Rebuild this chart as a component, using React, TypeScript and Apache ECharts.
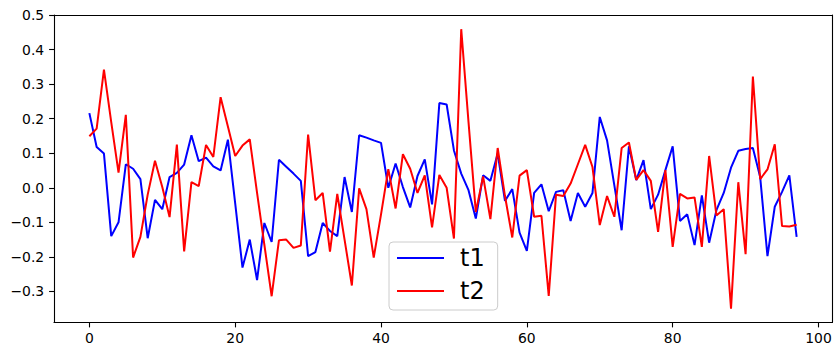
import React, { useEffect, useRef } from "react";
import * as echarts from "echarts";

const xIndex: number[] = Array.from({ length: 98 }, (_, i) => i);

const t1: number[] = [
  0.216, 0.118, 0.099, -0.14, -0.1, 0.068, 0.055, 0.025, -0.146, -0.035,
  -0.062, 0.031, 0.043, 0.067, 0.152, 0.077, 0.087, 0.062, 0.05, 0.139,
  -0.045, -0.231, -0.15, -0.267, -0.102, -0.157, 0.081, 0.061, 0.041, 0.02,
  -0.198, -0.186, -0.102, -0.125, -0.14, 0.031, -0.07, 0.152, 0.145, 0.137,
  0.13, 0.0, 0.07, 0.002, -0.057, 0.034, 0.082, -0.048, 0.245, 0.241,
  0.108, 0.041, -0.007, -0.089, 0.036, 0.02, 0.099, -0.038, -0.004, -0.13,
  -0.183, -0.015, 0.01, -0.068, -0.012, -0.007, -0.096, -0.015, -0.055, -0.015,
  0.205, 0.137, 0.007, -0.123, 0.12, 0.022, 0.08, -0.062, -0.02, 0.051,
  0.12, -0.096, -0.077, -0.166, -0.022, -0.159, -0.065, -0.015, 0.058, 0.107,
  0.112, 0.115, 0.031, -0.198, -0.055, -0.012, 0.036, -0.142,
];

const t2: number[] = [
  0.149, 0.171, 0.342, 0.19, 0.044, 0.211, -0.202, -0.142, -0.02, 0.078,
  0.002, -0.085, 0.125, -0.184, 0.016, 0.005, 0.124, 0.089, 0.262, 0.177,
  0.092, 0.122, 0.14, -0.015, -0.165, -0.314, -0.152, -0.15, -0.174, -0.167,
  0.154, -0.036, -0.015, -0.185, -0.018, -0.15, -0.283, -0.002, -0.062, -0.202,
  -0.077, 0.054, -0.06, 0.097, 0.055, -0.015, 0.036, -0.115, 0.037, 0.0,
  -0.147, 0.459, 0.19, -0.07, 0.033, -0.091, 0.115, -0.024, -0.144, 0.035,
  0.051, -0.084, -0.081, -0.313, -0.02, -0.024, 0.012, 0.068, 0.124, 0.06,
  -0.108, -0.024, -0.084, 0.115, 0.131, 0.023, 0.051, 0.02, -0.128, 0.051,
  -0.171, -0.018, -0.031, -0.028, -0.171, 0.092, -0.08, -0.062, -0.35, 0.016,
  -0.192, 0.322, 0.025, 0.053, 0.126, -0.111, -0.112, -0.107,
];

const xTicks: number[] = [0, 20, 40, 60, 80, 100];
const yTicks: number[] = [-0.3, -0.2, -0.1, 0.0, 0.1, 0.2, 0.3, 0.4, 0.5];

const FONT = "DejaVu Sans";
const X_MIN = -4.85;
const X_MAX = 101.85;
const Y_MIN = -0.39;
const Y_MAX = 0.5;

function fmtY(v: number): string {
  const s = (Math.round(v * 10) / 10).toFixed(1);
  if (s === "-0.0") return "0.0";
  return s.replace("-", "\u2212");
}

export default function App() {
  const ref = useRef<HTMLDivElement>(null);
  useEffect(() => {
    if (!ref.current) return;
    const chart = echarts.init(ref.current, undefined, { renderer: "svg" });
    const spine = { show: true, onZero: false, lineStyle: { color: "#000", width: 1.1 } };
    const tickStyle = { color: "#000", width: 1.1 };
    const bare = {
      splitLine: { show: false },
      axisTick: { show: false },
      axisLabel: { show: false },
      axisLine: spine,
    };
    chart.setOption({
      animation: false,
      backgroundColor: "#fff",
      grid: {
        left: 54,
        top: 15,
        width: 778,
        height: 307.5,
        containLabel: false,
      },
      xAxis: [
        {
          type: "value",
          position: "bottom",
          min: X_MIN,
          max: X_MAX,
          splitLine: { show: false },
          axisLine: spine,
          axisTick: {
            show: true,
            length: 4.9,
            inside: false,
            lineStyle: tickStyle,
            customValues: xTicks,
          },
          axisLabel: {
            show: true,
            margin: 8,
            color: "#000",
            fontSize: 13.9,
            fontFamily: FONT,
            customValues: xTicks,
            formatter: (v: number) => String(Math.round(v)),
          },
        },
        { type: "value", position: "top", min: X_MIN, max: X_MAX, ...bare },
      ],
      yAxis: [
        {
          type: "value",
          position: "left",
          min: Y_MIN,
          max: Y_MAX,
          splitLine: { show: false },
          axisLine: spine,
          axisTick: {
            show: true,
            length: 4.9,
            inside: false,
            lineStyle: tickStyle,
            customValues: yTicks,
          },
          axisLabel: {
            show: true,
            margin: 9.8,
            color: "#000",
            fontSize: 13.9,
            fontFamily: FONT,
            customValues: yTicks,
            formatter: (v: number) => fmtY(v),
          },
        },
        { type: "value", position: "right", min: Y_MIN, max: Y_MAX, ...bare },
      ],
      legend: {
        data: ["t1", "t2"],
        orient: "vertical",
        left: 389,
        top: 242,
        padding: [3, 13, 6, 8],
        icon: "rect",
        itemWidth: 47,
        itemHeight: 2.1,
        itemGap: 7,
        backgroundColor: "rgba(255,255,255,0.8)",
        borderColor: "#cccccc",
        borderWidth: 1,
        borderRadius: 4,
        textStyle: {
          fontSize: 24,
          fontFamily: FONT,
          color: "#000",
          lineHeight: 26,
          padding: [0, 0, 0, 11],
        },
      },
      series: [
        {
          name: "t1",
          type: "line",
          symbol: "none",
          showSymbol: false,
          color: "#0000ff",
          lineStyle: { color: "#0000ff", width: 2 },
          data: xIndex.map((x, i) => [x, t1[i]]),
        },
        {
          name: "t2",
          type: "line",
          symbol: "none",
          showSymbol: false,
          color: "#ff0000",
          lineStyle: { color: "#ff0000", width: 2 },
          data: xIndex.map((x, i) => [x, t2[i]]),
        },
      ],
    });
    return () => chart.dispose();
  }, []);
  return (
    <div
      ref={ref}
      style={{ position: "fixed", left: 0, top: 0, width: 838, height: 356, background: "#fff" }}
    />
  );
}
